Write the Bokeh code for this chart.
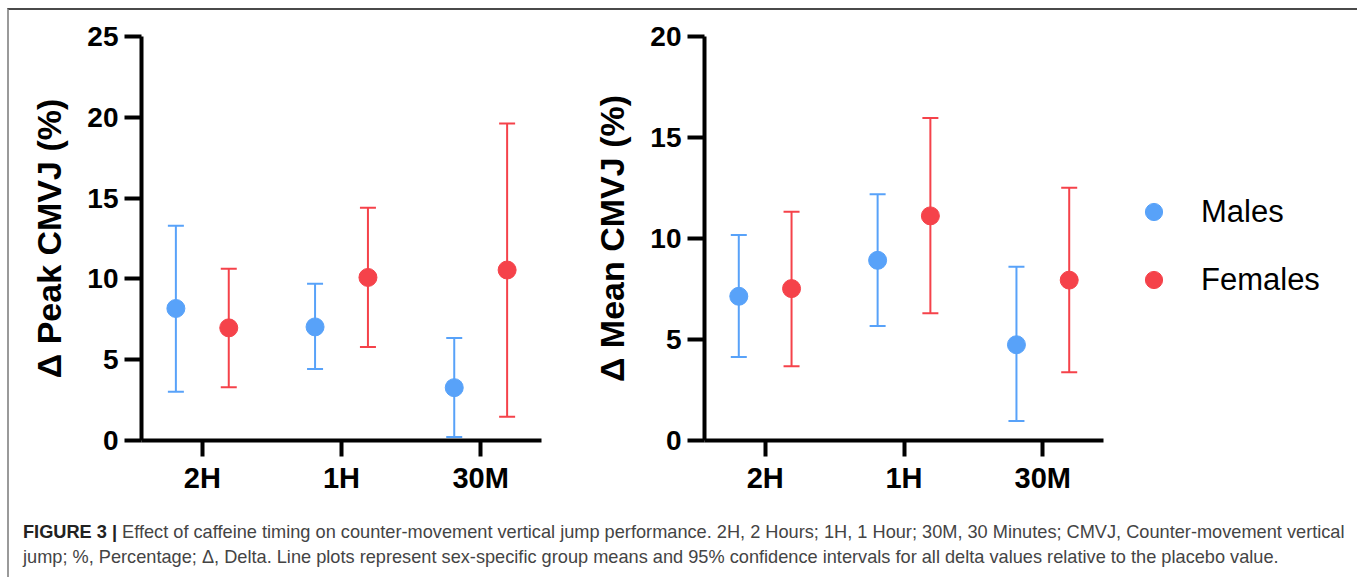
from bokeh.plotting import figure
from bokeh.models import (Range1d, FixedTicker, ColumnDataSource, Whisker, TeeHead,
                          Legend, LegendItem, Div)
from bokeh.layouts import row, column
from bokeh.embed import file_html
from bokeh.resources import INLINE
import numpy as np

# ---------------- data ----------------
categories = ["2H", "1H", "30M"]
series_names = ["Males", "Females"]

peak_males_mean = [8.17, 7.03, 3.27]
peak_males_lower = [3.02, 4.43, 0.22]
peak_males_upper = [13.29, 9.70, 6.35]
peak_females_mean = [6.97, 10.09, 10.55]
peak_females_lower = [3.29, 5.79, 1.47]
peak_females_upper = [10.63, 14.41, 19.61]

mean_males_mean = [7.14, 8.92, 4.74]
mean_males_lower = [4.13, 5.67, 0.96]
mean_males_upper = [10.17, 12.19, 8.60]
mean_females_mean = [7.52, 11.12, 7.94]
mean_females_lower = [3.68, 6.30, 3.38]
mean_females_upper = [11.33, 15.97, 12.51]

peak_ticks = [0, 5, 10, 15, 20, 25]
mean_ticks = [0, 5, 10, 15, 20]

# ---------------- style ----------------
BLUE = "#58A2F9"
RED = "#F5424A"
FONT = "Liberation Sans"
DODGE = 0.19
PLOT_H = 495


def make_panel(ylabel, ticks, males, females, width, mb_left, mb_right):
    p = figure(width=width, height=PLOT_H,
               x_range=Range1d(-0.437, 2.437), y_range=Range1d(ticks[0], ticks[-1]),
               min_border_left=mb_left, min_border_right=mb_right,
               min_border_top=26, min_border_bottom=PLOT_H - 26 - 404,
               output_backend="svg", toolbar_location=None)
    p.outline_line_color = None
    p.xgrid.visible = False
    p.ygrid.visible = False
    p.background_fill_color = "white"
    p.border_fill_color = "white"

    idx = np.arange(len(categories))
    for (mean, lo, hi), off, col in zip([males, females], [-DODGE, DODGE], [BLUE, RED]):
        src = ColumnDataSource(dict(x=idx + off, y=mean, lower=lo, upper=hi))
        w = Whisker(source=src, base="x", upper="upper", lower="lower",
                    dimension="height", line_color=col, line_width=2,
                    upper_head=TeeHead(size=16, line_color=col, line_width=2),
                    lower_head=TeeHead(size=16, line_color=col, line_width=2))
        p.add_layout(w)
        p.scatter("x", "y", source=src, size=18, fill_color=col, line_color=col)

    # y axis
    ya = p.yaxis[0]
    ya.ticker = FixedTicker(ticks=ticks)
    ya.axis_line_width = 4
    ya.major_tick_line_width = 4
    ya.major_tick_out = 17
    ya.major_tick_in = 0
    ya.minor_tick_line_color = None
    ya.major_label_text_font = FONT
    ya.major_label_text_font_style = "bold"
    ya.major_label_text_font_size = "28px"
    ya.major_label_text_color = "black"
    ya.major_label_standoff = 6
    ya.axis_label = ylabel
    ya.axis_label_text_font = FONT
    ya.axis_label_text_font_style = "bold"
    ya.axis_label_text_font_size = "34px"
    ya.axis_label_text_color = "black"
    ya.axis_label_standoff = 16

    # x axis
    xa = p.xaxis[0]
    xa.ticker = FixedTicker(ticks=list(range(len(categories))))
    xa.major_label_overrides = {i: c for i, c in enumerate(categories)}
    xa.axis_line_width = 4
    xa.major_tick_line_width = 4
    xa.major_tick_out = 16
    xa.major_tick_in = 0
    xa.minor_tick_line_color = None
    xa.major_label_text_font = FONT
    xa.major_label_text_font_style = "bold"
    xa.major_label_text_font_size = "29px"
    xa.major_label_text_color = "black"
    xa.major_label_standoff = 5
    return p


p1 = make_panel("\u0394 Peak CMVJ (%)", peak_ticks,
                (peak_males_mean, peak_males_lower, peak_males_upper),
                (peak_females_mean, peak_females_lower, peak_females_upper),
                width=551, mb_left=132, mb_right=19)
p2 = make_panel("\u0394 Mean CMVJ (%)", mean_ticks,
                (mean_males_mean, mean_males_lower, mean_males_upper),
                (mean_females_mean, mean_females_lower, mean_females_upper),
                width=565, mb_left=144, mb_right=22)

# legend panel
p3 = figure(width=228, height=PLOT_H, x_range=Range1d(0, 1), y_range=Range1d(0, 1),
            min_border=0, output_backend="svg", toolbar_location=None)
p3.axis.visible = False
p3.grid.visible = False
p3.outline_line_color = None
items = []
for name, col in zip(series_names, [BLUE, RED]):
    r = p3.scatter(x=[np.nan], y=[np.nan], size=18, fill_color=col, line_color=col)
    items.append(LegendItem(label=name, renderers=[r], index=0))
leg = Legend(items=items, location=(7, 139), glyph_width=43, glyph_height=43,
             label_height=43, label_standoff=26, spacing=25, padding=0, margin=0,
             border_line_color=None, background_fill_alpha=0,
             label_text_font=FONT, label_text_font_size="31px", label_text_color="black")
p3.add_layout(leg)

caption = Div(
    text=('<span style="font-weight:bold;color:#222">FIGURE 3 |</span> Effect of caffeine timing on '
          'counter-movement vertical jump performance. 2H, 2 Hours; 1H, 1 Hour; 30M, 30 Minutes; '
          'CMVJ, Counter-movement vertical<br>jump; %, Percentage; \u0394, Delta. Line plots represent '
          'sex-specific group means and 95% confidence intervals for all delta values relative to the '
          'placebo value.'),
    width=1344, height=70,
    styles={"font-family": FONT, "font-size": "18.2px", "color": "#444", "line-height": "25px",
            "padding-left": "9px", "padding-top": "10px", "white-space": "nowrap"})

layout = column(row(p1, p2, p3), caption,
                styles={"margin-left": "7px", "margin-top": "8px",
                        "border-top": "2px solid #4a4a4a", "border-left": "2px solid #9a9a9a",
                        "border-right": "2px solid #9a9a9a"})

open("out.html", "w").write(file_html(layout, INLINE))
